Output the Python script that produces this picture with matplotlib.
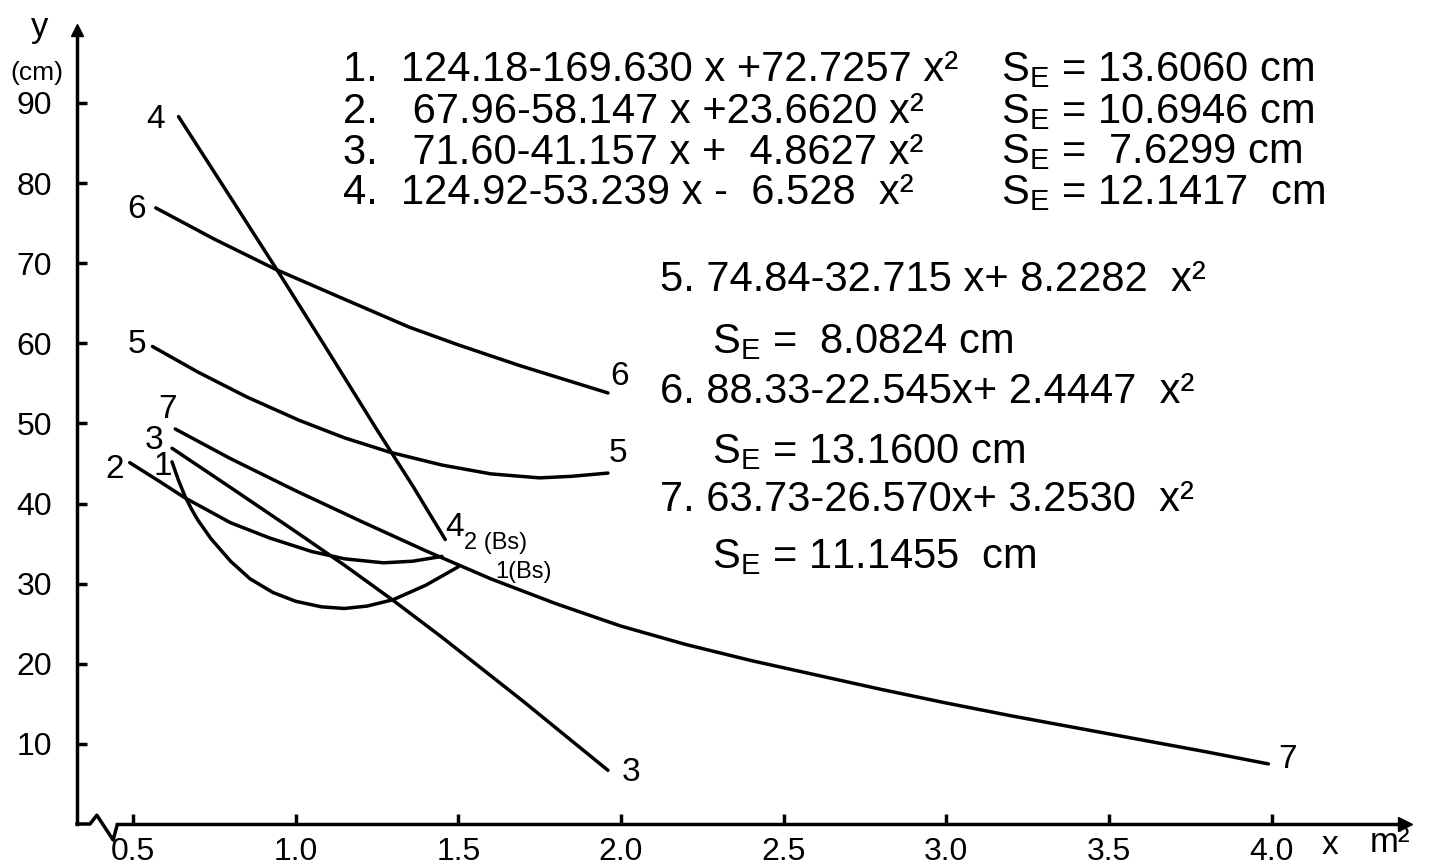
import matplotlib.pyplot as plt

# values: x in m2, y in cm
x1 = [0.62, 0.64, 0.66, 0.68, 0.70, 0.74, 0.80, 0.86, 0.93, 1.00, 1.08, 1.15, 1.22, 1.30, 1.40, 1.50]
y1 = [45.2, 42.9, 40.9, 39.3, 37.9, 35.6, 32.8, 30.6, 28.9, 27.8, 27.1, 26.9, 27.2, 28.0, 29.8, 32.1]
x2 = [0.49, 0.58, 0.66, 0.80, 0.92, 1.05, 1.15, 1.27, 1.36, 1.45]
y2 = [45.1, 42.8, 40.7, 37.6, 35.7, 34.0, 33.1, 32.6, 32.8, 33.4]
x3 = [0.62, 0.80, 1.00, 1.15, 1.30, 1.45, 1.70, 1.96]
y3 = [46.9, 42.0, 36.5, 32.3, 27.9, 23.3, 15.3, 6.7]
x4 = [0.64, 0.80, 0.95, 1.10, 1.25, 1.36, 1.46]
y4 = [88.3, 78.2, 68.7, 59.0, 49.2, 42.2, 35.5]
x5 = [0.56, 0.70, 0.85, 1.01, 1.15, 1.29, 1.45, 1.60, 1.75, 1.85, 1.96]
y5 = [59.6, 56.4, 53.3, 50.4, 48.2, 46.4, 44.8, 43.7, 43.2, 43.4, 43.8]
x6 = [0.57, 0.75, 0.94, 1.15, 1.35, 1.50, 1.69, 1.96]
y6 = [76.9, 73.0, 69.2, 65.5, 62.0, 59.8, 57.2, 53.8]
x7 = [0.63, 0.80, 1.00, 1.20, 1.40, 1.60, 1.80, 2.00, 2.20, 2.40, 2.60, 2.80, 3.00, 3.20, 3.40, 3.60, 3.80, 3.99]
y7 = [49.3, 45.6, 41.6, 37.8, 34.1, 30.6, 27.5, 24.7, 22.4, 20.4, 18.6, 16.8, 15.1, 13.5, 12.0, 10.5, 9.0, 7.5]

xticks = [0.5, 1.0, 1.5, 2.0, 2.5, 3.0, 3.5, 4.0]
xticklabels = ["0.5", "1.0", "1.5", "2.0", "2.5", "3.0", "3.5", "4.0"]
yticks = [10, 20, 30, 40, 50, 60, 70, 80, 90]

equations = [
    "1.  124.18-169.630 x +72.7257 x²",
    "2.   67.96-58.147 x +23.6620 x²",
    "3.   71.60-41.157 x +  4.8627 x²",
    "4.  124.92-53.239 x -  6.528  x²",
]
errors = ["= 13.6060 cm", "= 10.6946 cm", "=  7.6299 cm", "= 12.1417  cm"]
equations_b = [
    ("5. 74.84-32.715 x+ 8.2282  x²", "=  8.0824 cm"),
    ("6. 88.33-22.545x+ 2.4447  x²", "= 13.1600 cm"),
    ("7. 63.73-26.570x+ 3.2530  x²", "= 11.1455  cm"),
]

plt.rcParams['font.family'] = ['Liberation Sans', 'DejaVu Sans']
plt.rcParams['mathtext.fontset'] = 'custom'
plt.rcParams['mathtext.rm'] = 'Liberation Sans'

fig = plt.figure(figsize=(14.29, 8.68), dpi=100)
ax = fig.add_axes([77 / 1429, 44 / 868, 1328 / 1429, 794 / 868])
ax.set_xlim(0.328, 4.41)
ax.set_ylim(0, 99.1)

lw = 2.5
for xs, ys in [(x1, y1), (x2, y2), (x3, y3), (x4, y4), (x5, y5), (x6, y6), (x7, y7)]:
    ax.plot(xs, ys, color='black', lw=lw, solid_capstyle='round', solid_joinstyle='round')

# axes look
for s in ['top', 'right']:
    ax.spines[s].set_visible(False)
ax.spines['left'].set_linewidth(2.5)
ax.spines['bottom'].set_linewidth(2.5)
ax.spines['bottom'].set_bounds(0.451, 4.41)
ax.plot([0.328, 0.368, 0.389, 0.439, 0.451], [0, 0, 1.1, -2.0, -0.2],
        color='black', lw=2.5, clip_on=False)
ax.plot(1, 0, '>', color='black', ms=10, transform=ax.transAxes, clip_on=False)
ax.plot(0, 1, '^', color='black', ms=9, transform=ax.transAxes, clip_on=False)

ax.set_xticks(xticks)
ax.set_xticklabels(xticklabels)
ax.set_yticks(yticks)
ax.tick_params(direction='in', length=7, width=2.5, labelsize=23, pad=9)
ax.tick_params(axis='y', pad=18)

fig.text(40 / 1429, 1 - 28 / 868, "y", fontsize=25, ha='center', va='center')
fig.text(37 / 1429, 1 - 73 / 868, "(cm)", fontsize=19, ha='center', va='center')
fig.text(1330 / 1429, 1 - 845 / 868, "x", fontsize=24, ha='center', va='center')
fig.text(1390 / 1429, 1 - 842 / 868, "m²", fontsize=25, ha='center', va='center')

# curve numbers
lab = dict(fontsize=24, ha='center', va='center')
ax.text(0.568, 87.9, "4", **lab)
ax.text(0.512, 76.7, "6", **lab)
ax.text(0.512, 59.8, "5", **lab)
ax.text(0.605, 51.7, "7", **lab)
ax.text(0.565, 47.9, "3", **lab)
ax.text(0.445, 44.2, "2", **lab)
ax.text(0.592, 44.6, "1", **lab)
ax.text(1.995, 55.8, "6", **lab)
ax.text(1.990, 46.3, "5", **lab)
ax.text(1.490, 37.0, "4", **lab)
ax.text(2.030, 6.4, "3", **lab)
ax.text(4.050, 8.0, "7", **lab)
ax.text(1.518, 35.1, "2 (Bs)", fontsize=17, ha='left', va='center')
ax.text(1.615, 31.5, "1(Bs)", fontsize=17, ha='left', va='center')

# regression equations
eq = dict(fontsize=30, ha='left', va='center')
rows_y = [94.1, 88.9, 83.8, 78.7]
for txt, err, yy in zip(equations, errors, rows_y):
    ax.text(1.146, yy, txt, **eq)
    ax.text(3.167, yy, r"$\mathrm{S_E}$ " + err, **eq)

rows_b = [(67.9, 60.2), (53.9, 46.4), (40.4, 33.3)]
for (txt, err), (ya, yb) in zip(equations_b, rows_b):
    ax.text(2.120, ya, txt, **eq)
    ax.text(2.281, yb, r"$\mathrm{S_E}$ " + err, **eq)

fig.savefig("out.png", dpi=100)
